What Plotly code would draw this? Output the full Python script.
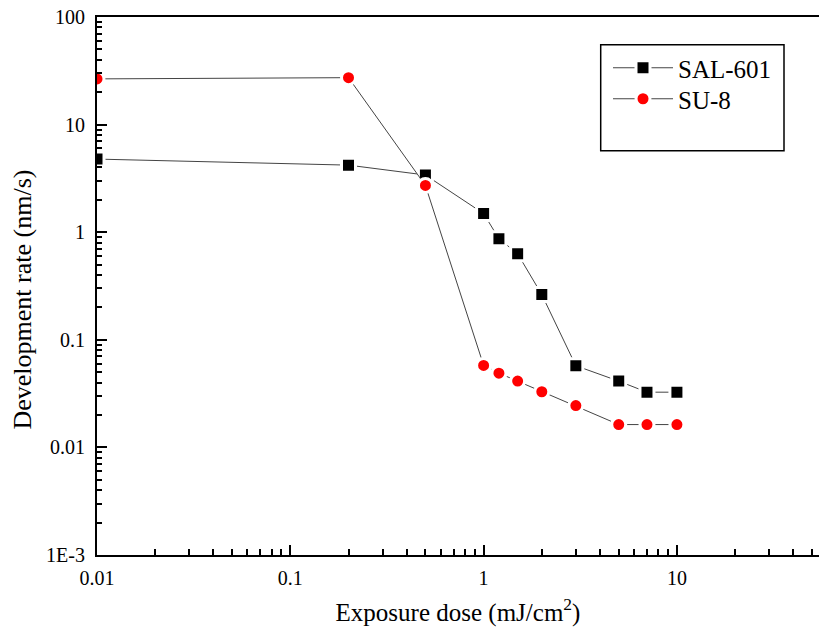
import plotly.graph_objects as go

# Data
dose = [0.01, 0.2, 0.5, 1, 1.2, 1.5, 2, 3, 5, 7, 10]
sal601 = [4.78, 4.2, 3.4, 1.49, 0.87, 0.63, 0.263, 0.0574, 0.0413, 0.0326, 0.0326]
su8 = [26.6, 27.3, 2.72, 0.0578, 0.049, 0.0413, 0.0329, 0.0245, 0.0163, 0.0163, 0.0163]

x_major = [0.01, 0.1, 1, 10]
x_major_text = ["0.01", "0.1", "1", "10"]
y_major = [0.001, 0.01, 0.1, 1, 10, 100]
y_major_text = ["1E-3", "0.01", "0.1", "1", "10", "100"]
x_minor = [m * d for d in [0.01, 0.1, 1] for m in range(2, 10)] + [20, 30, 40, 50]
y_minor = [m * d for d in [0.001, 0.01, 0.1, 1, 10] for m in range(2, 10)]

FONT = "Liberation Serif, Times New Roman, serif"

fig = go.Figure()
fig.add_trace(go.Scatter(
    x=dose, y=sal601, name="SAL-601", mode="lines+markers", legend="legend",
    line=dict(color="#444444", width=1),
    marker=dict(symbol="square", size=14, color="black",
                line=dict(color="white", width=3)),
))
fig.add_trace(go.Scatter(
    x=dose, y=su8, name="SU-8", mode="lines+markers", legend="legend2",
    line=dict(color="#444444", width=1),
    marker=dict(symbol="circle", size=14, color="#ff0000",
                line=dict(color="white", width=3)),
))

# page body margin is removed by the post_script below
W, H = 819, 641
L, R, T, B = 97, 0, 17, 86
pw, ph = W - L - R, H - T - B

def px(x):
    return (x - L) / pw

def py(y):
    return 1 - (y - T) / ph

leg_common = dict(xanchor="left", yanchor="top",
                  bgcolor="rgba(0,0,0,0)", borderwidth=0,
                  font=dict(family=FONT, size=25, color="black"),
                  itemwidth=60)

fig.update_layout(
    width=W, height=H,
    margin=dict(l=L, r=R, t=T, b=B, autoexpand=False),
    paper_bgcolor="white", plot_bgcolor="white",
    font=dict(family=FONT, color="black", size=20),
    showlegend=True,
    hovermode=False,
    legend=dict(x=px(608), y=py(45), **leg_common),
    legend2=dict(x=px(608), y=py(76), **leg_common),
    shapes=[dict(type="rect", xref="paper", yref="paper",
                 x0=px(600.7), x1=px(784), y0=py(150.7), y1=py(44.7),
                 line=dict(color="black", width=1.5), fillcolor="rgba(0,0,0,0)")],
    annotations=[dict(text="Development rate (nm/s)", textangle=-90,
                      xref="paper", yref="paper", x=px(21.5), y=py(300),
                      xanchor="center", yanchor="middle", showarrow=False,
                      font=dict(family=FONT, size=26, color="black"))],
)

fig.update_xaxes(
    type="log", range=[-2, 1.735],
    showline=True, linecolor="black", linewidth=2, mirror=True,
    showgrid=False, zeroline=False,
    ticks="inside", ticklen=10, tickwidth=2, tickcolor="black",
    tickmode="array", tickvals=x_major, ticktext=x_major_text,
    tickfont=dict(family=FONT, size=20, color="black"),
    ticklabelstandoff=4, ticklabeloverflow="allow",
    minor=dict(ticks="inside", ticklen=6, tickwidth=1.5, tickcolor="black",
               tickmode="array", tickvals=x_minor, showgrid=False),
    title_text="Exposure dose (mJ/cm<sup>2</sup>)",
    title_font_family=FONT, title_font_size=25, title_font_color="black",
    title_standoff=15,
)
fig.update_yaxes(
    type="log", range=[-3, 2],
    showline=True, linecolor="black", linewidth=2, mirror=False,
    showgrid=False, zeroline=False,
    ticks="inside", ticklen=10, tickwidth=2, tickcolor="black",
    tickmode="array", tickvals=y_major, ticktext=y_major_text,
    tickfont=dict(family=FONT, size=20, color="black"),
    ticklabelstandoff=6, ticklabeloverflow="allow",
    minor=dict(ticks="inside", ticklen=5, tickwidth=1.5, tickcolor="black",
               tickmode="array", tickvals=y_minor, showgrid=False),
)

fig.write_html("out.html", config={"displayModeBar": False},
               post_script="document.body.style.margin='0';")
